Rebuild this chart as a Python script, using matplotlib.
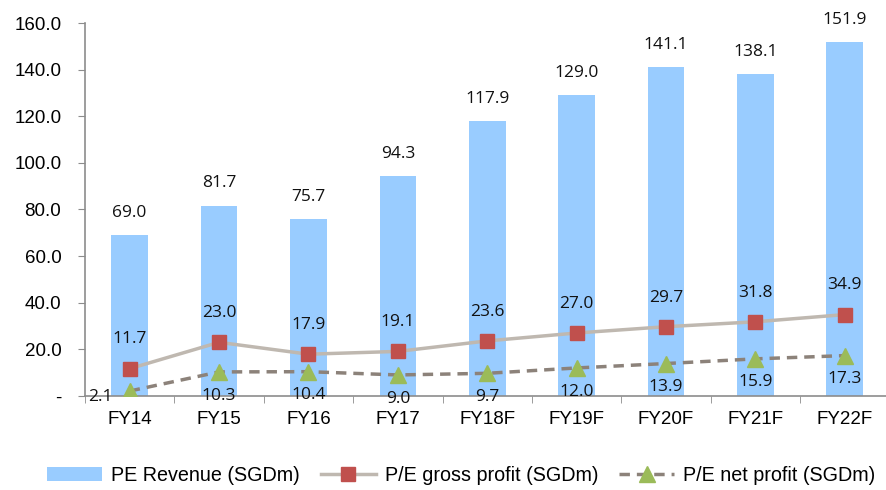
import numpy as np
import matplotlib
matplotlib.use("Agg")
import matplotlib.pyplot as plt
from matplotlib.ticker import FuncFormatter, FixedLocator

plt.rcParams['font.family'] = ['Liberation Sans', 'DejaVu Sans']

years = ["FY14", "FY15", "FY16", "FY17", "FY18F", "FY19F", "FY20F", "FY21F", "FY22F"]
revenue = [69.0, 81.7, 75.7, 94.3, 117.9, 129.0, 141.1, 138.1, 151.9]
gross_pe = [11.7, 23.0, 17.9, 19.1, 23.6, 27.0, 29.7, 31.8, 34.9]
net_pe = [2.1, 10.3, 10.4, 9.0, 9.7, 12.0, 13.9, 15.9, 17.3]

axis_grey = "#8c8c8c"
lab_font = "Open Sans"
lab_size = 12.5

fig = plt.figure(figsize=(8.87, 4.9), dpi=100)
ax = fig.add_axes([0.0958, 0.192, 0.907, 0.761])

x = np.arange(len(years))
bars = ax.bar(x, revenue, width=0.41, color="#99ccff", label="PE Revenue (SGDm)", zorder=1)
gl, = ax.plot(x, gross_pe, color="#bfb8b0", lw=2.5, marker="s", ms=10.5,
              mfc="#c0504d", mec="#c0504d", label="P/E gross profit (SGDm)", zorder=3)
nl, = ax.plot(x, net_pe, color="#8c827a", lw=2.5, ls=(0, (3, 2)), marker="^", ms=12,
              mfc="#9bbb59", mec="#9bbb59", label="P/E net profit (SGDm)", zorder=3)

for i in x:
    ax.annotate(f"{revenue[i]:.1f}", (i, revenue[i]), xytext=(0, 16), textcoords="offset points",
                ha="center", va="center", fontsize=lab_size, family=lab_font, color="#111111")
    ax.annotate(f"{gross_pe[i]:.1f}", (i, gross_pe[i]), xytext=(0, 21), textcoords="offset points",
                ha="center", va="center", fontsize=lab_size, family=lab_font, color="#111111")
    dx = -21 if i == 0 else 0
    dy = -4 if i == 0 else -17
    ax.annotate(f"{net_pe[i]:.1f}", (i, net_pe[i]), xytext=(dx, dy), textcoords="offset points",
                ha="center", va="center", fontsize=lab_size, family=lab_font, color="#111111")

ax.set_xlim(-0.5, len(years) - 0.5)
ax.set_ylim(0, 160)
ax.set_yticks(np.arange(0, 161, 20))
ax.yaxis.set_major_formatter(FuncFormatter(lambda v, p: "-" if v == 0 else f"{v:.1f}"))

ax.set_xticks(x)
ax.set_xticklabels(years)
ax.xaxis.set_minor_locator(FixedLocator(np.arange(-0.5, len(years), 1)))
ax.tick_params(axis="x", which="major", length=0, pad=11, labelsize=13.5)
ax.tick_params(axis="x", which="minor", length=5, color=axis_grey, direction="out")
ax.tick_params(axis="y", length=5, color=axis_grey, labelsize=13.5, pad=12)

for s in ["top", "right"]:
    ax.spines[s].set_visible(False)
for s in ["left", "bottom"]:
    ax.spines[s].set_color(axis_grey)
    ax.spines[s].set_linewidth(1.2)

fig.legend([bars, gl, nl], [bars.get_label(), gl.get_label(), nl.get_label()],
           loc="lower center", bbox_to_anchor=(0.52, -0.025), ncol=3, frameon=False,
           fontsize=14.2, handlelength=2.8, columnspacing=1.05, handletextpad=0.45)

fig.savefig("out.png", dpi=100)
